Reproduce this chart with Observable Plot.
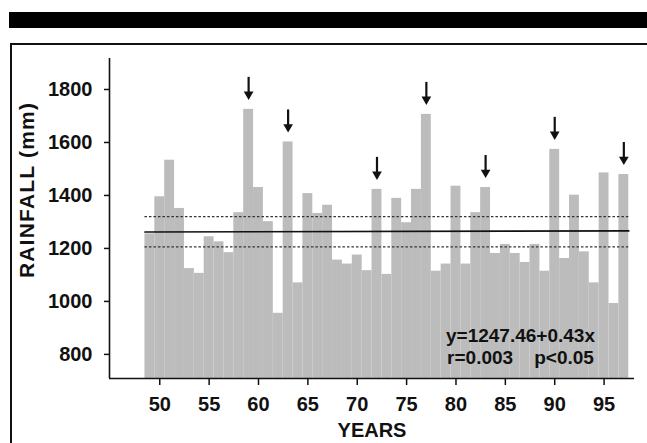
<!DOCTYPE html>
<html><head><meta charset="utf-8">
<script src="https://cdn.jsdelivr.net/npm/d3@7"></script>
<script src="https://cdn.jsdelivr.net/npm/@observablehq/plot@0.6"></script>
<style>
html,body{margin:0;padding:0;background:#fff;}
#wrap{position:relative;width:647px;height:443px;overflow:hidden;font-family:"Liberation Sans",Arial,sans-serif;}
#band{position:absolute;left:9px;top:12px;width:638px;height:16px;background:#000;}
#frameTop{position:absolute;left:10px;top:43px;width:637px;height:1.6px;background:#111;}
#frameLeft{position:absolute;left:10px;top:43px;width:1.6px;height:400px;background:#111;}
#ylab{position:absolute;left:26px;top:190px;transform:translate(-50%,-50%) rotate(-90deg);white-space:nowrap;font-weight:bold;font-size:21px;letter-spacing:1.2px;color:#111;line-height:1;z-index:2;}
#wrap svg{position:absolute;left:0;top:0;}
</style></head><body>
<div id="wrap"><div id="band"></div><div id="frameTop"></div><div id="frameLeft"></div><div id="ylab"></div></div>
<script>
const years = [49,50,51,52,53,54,55,56,57,58,59,60,61,62,63,64,65,66,67,68,69,70,71,72,73,74,75,76,77,78,79,80,81,82,83,84,85,86,87,88,89,90,91,92,93,94,95,96,97];
const rainfall = [1255,1395,1533,1351,1124,1106,1244,1225,1184,1335,1725,1430,1301,955,1602,1070,1407,1332,1363,1156,1141,1175,1116,1423,1102,1389,1297,1423,1706,1114,1141,1435,1141,1335,1430,1181,1215,1181,1147,1215,1114,1574,1162,1401,1187,1070,1485,992,1479];
const arrowYears = [59,63,72,77,83,90,97];
const xTicks = [50,55,60,65,70,75,80,85,90,95];
const yTicks = [800,1000,1200,1400,1600,1800];
const trendX = [48.5, 97.5];
const trendY = [1262, 1266];
const limitY = [1206, 1320];
const equationText = "y=1247.46+0.43x";
const statsText = "r=0.003    p<0.05";
const yLabel = "RAINFALL (mm)";
const xLabel = "YEARS";

const xDomain = [44.91, 98.08];
const yDomain = [709, 1917];
const U = (yDomain[1]-yDomain[0])/320; // data units per pixel

const data = years.map((y,i)=>({year:y, rain:rainfall[i]}));
const arrows = data.filter(d=>arrowYears.includes(d.year));
const trend = trendX.map((x,i)=>({x, y:trendY[i]}));

document.getElementById("ylab").textContent = yLabel;

const font = '"Liberation Sans", Arial, sans-serif';
const chart = Plot.plot({
  width:647, height:443,
  marginTop:58, marginBottom:65, marginLeft:109, marginRight:13,
  style:{fontFamily:font, fontWeight:"bold", fontSize:"20px", color:"#111", background:"transparent"},
  x:{domain:xDomain, label:null, axis:null},
  y:{domain:yDomain, label:null, axis:null},
  marks:[
    Plot.rect(data,{x1:d=>d.year-0.5, x2:d=>d.year+0.5, y1:yDomain[0], y2:"rain", fill:"#bcbcbc"}),
    Plot.ruleY(limitY,{x1:trendX[0], x2:trendX[1], stroke:"#333", strokeDasharray:"2.5,2", strokeWidth:1.3}),
    Plot.line(trend,{x:"x", y:"y", stroke:"#111", strokeWidth:1.7}),
    Plot.ruleX(arrows,{x:"year", y1:d=>d.rain+14*U, y2:d=>d.rain+32*U, stroke:"#111", strokeWidth:2.2}),
    Plot.dot(arrows,{x:"year", y:d=>d.rain+15*U, symbol:"triangle", rotate:180, r:3.6, fill:"#111", stroke:"none"}),
    Plot.ruleX([xDomain[0]],{stroke:"#111", strokeWidth:1.6}),
    Plot.ruleY([yDomain[0]],{stroke:"#111", strokeWidth:1.6}),
    Plot.axisX({ticks:xTicks, tickSize:7, tickPadding:11, tickFormat:d=>String(d), fontSize:20, stroke:"#111", strokeWidth:1.5}),
    Plot.axisY({ticks:yTicks, tickSize:5, tickPadding:12, tickFormat:d=>String(d), fontSize:20, stroke:"#111", strokeWidth:1.5}),
    Plot.text([xLabel],{frameAnchor:"bottom", dy:58, fontSize:20, fontWeight:"bold", fill:"#111"}),
    Plot.text([equationText + "\n" + statsText],{frameAnchor:"bottom-right", textAnchor:"middle", lineAnchor:"bottom", lineHeight:1.14, dx:-114, dy:-15, fontSize:19, fontWeight:"bold", fill:"#111"})
  ]
});
document.getElementById("wrap").appendChild(chart);
</script>
</body></html>
